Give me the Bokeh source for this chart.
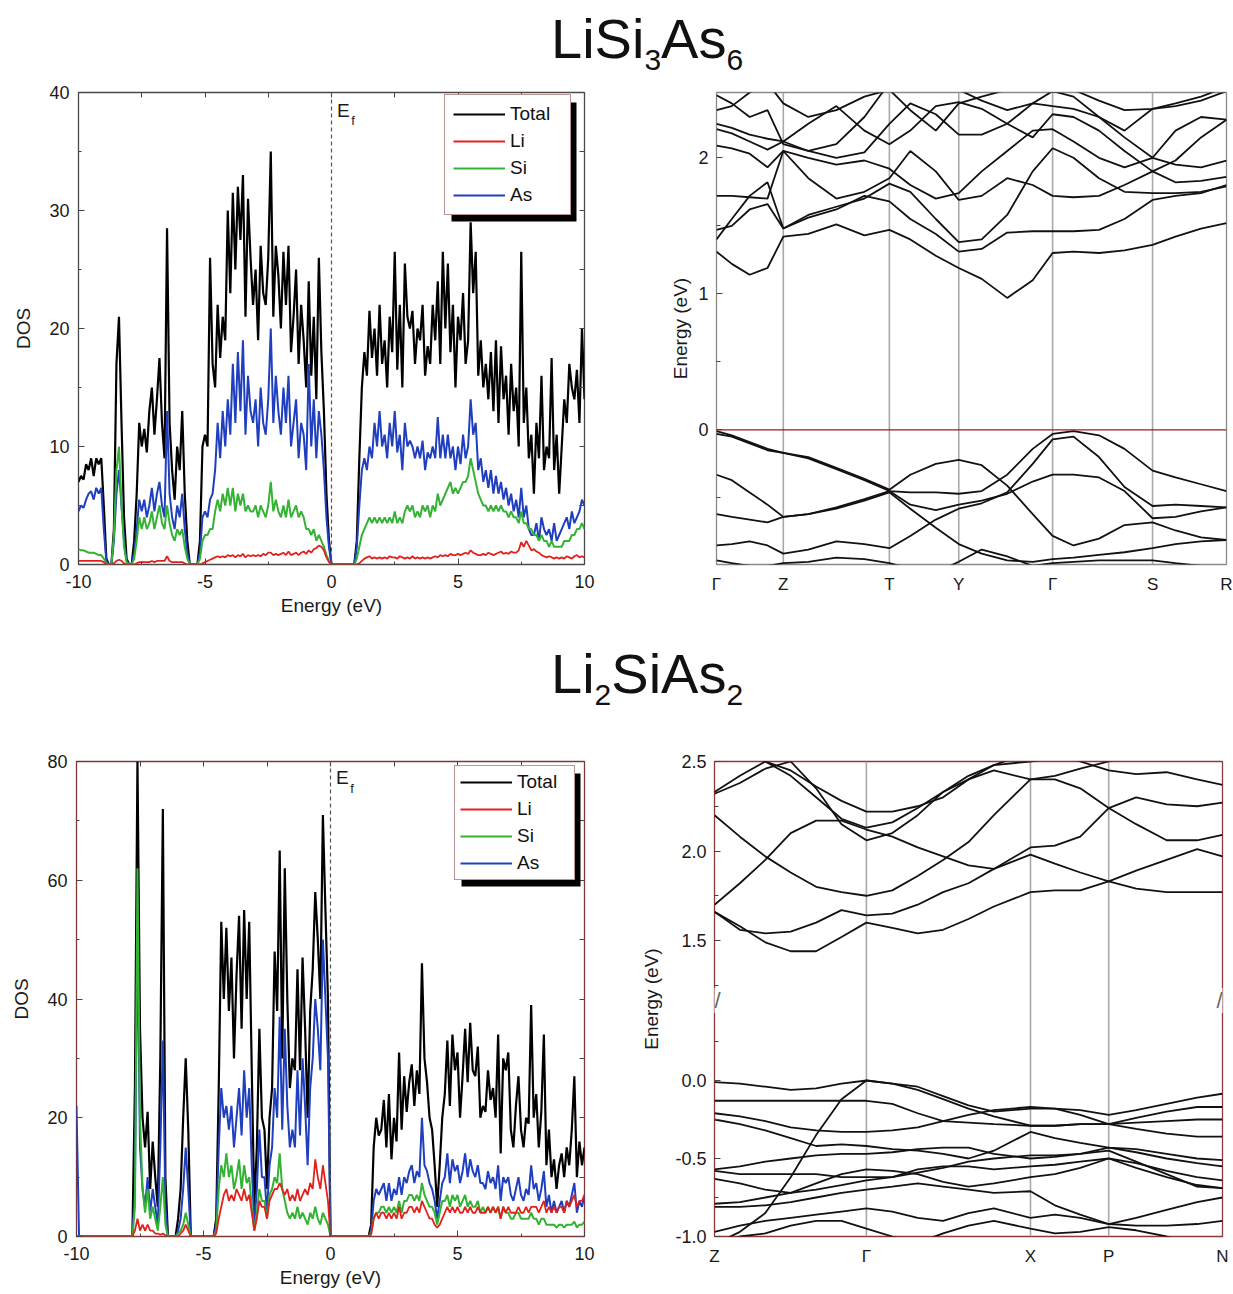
import numpy as np
from bokeh.plotting import figure
from bokeh.models import (Div, Span, Label, Legend, LegendItem, LinearAxis,
                          FixedTicker, BoxAnnotation, Range1d)
from bokeh.layouts import column, row
from bokeh.embed import file_html
from bokeh.resources import INLINE

FONT = "Liberation Sans"

# ---------------------------------------------------------------- DOS data
energy = np.round(np.linspace(-10.0, 10.0, 201), 1)

# LiSi3As6
dos1_total = [
    7.0, 7.5, 7.2, 8.5, 8.0, 9.0, 7.5, 9.0, 8.5, 9.0,
    5.0, 0.5, 0.0, 0.0, 3.0, 17.0, 21.0, 12.0, 4.0, 0.5,
    0.0, 0.0, 2.0, 6.0, 12.0, 10.0, 11.5, 9.5, 13.0, 15.0,
    11.0, 14.0, 17.5, 12.0, 9.0, 28.5, 12.0, 8.0, 5.5, 10.0,
    8.0, 13.0, 6.0, 2.0, 0.0, 0.0, 0.0, 0.0, 2.0, 10.0,
    11.0, 10.0, 26.0, 17.0, 15.0, 22.0, 17.5, 21.0, 19.0, 30.0,
    23.0, 31.5, 25.0, 32.0, 27.5, 33.0, 21.0, 31.0, 26.0, 22.0,
    25.0, 19.0, 27.0, 23.0, 22.0, 26.0, 35.0, 21.0, 27.0, 24.5,
    20.0, 26.5, 22.0, 27.0, 18.0, 21.0, 25.0, 17.0, 22.0, 19.0,
    15.0, 24.0, 16.0, 21.0, 14.0, 26.0, 18.0, 13.0, 6.0, 2.0,
    0.0, 0.0, 0.0, 0.0, 0.0, 0.0, 0.0, 0.0, 0.0, 0.0,
    2.0, 9.0, 15.0, 18.0, 16.0, 21.5, 17.5, 20.0, 16.0, 22.0,
    17.0, 19.0, 15.0, 21.0, 18.0, 26.5, 16.5, 22.0, 15.0, 25.5,
    21.0, 20.0, 21.5, 17.0, 20.0, 19.0, 22.0, 16.0, 18.5, 17.0,
    22.0, 19.0, 24.0, 17.0, 26.5, 20.0, 25.5, 18.0, 22.0, 15.0,
    21.0, 19.0, 23.0, 17.0, 19.0, 29.0, 23.0, 26.5, 16.0, 19.0,
    15.0, 17.0, 14.0, 18.0, 13.0, 19.0, 12.0, 18.5, 14.0, 16.0,
    11.0, 17.0, 13.0, 15.0, 10.0, 26.5, 12.0, 15.0, 9.0, 11.0,
    6.0, 12.0, 9.0, 16.0, 8.0, 10.0, 9.0, 17.5, 8.0, 11.0,
    6.0, 10.0, 14.0, 12.0, 17.0, 15.0, 14.0, 16.5, 12.0, 20.0,
    14.0]
dos1_as = [
    4.5, 5.0, 4.8, 5.5, 6.0, 6.2, 5.5, 6.5, 6.0, 6.5,
    3.0, 0.3, 0.0, 0.0, 2.0, 6.0, 8.0, 5.0, 2.0, 0.3,
    0.0, 0.0, 1.0, 3.0, 5.5, 4.5, 5.5, 4.0, 5.0, 6.5,
    4.5, 6.0, 7.0, 5.0, 4.0, 13.0, 6.0, 4.0, 3.0, 5.0,
    4.0, 6.0, 3.0, 1.0, 0.0, 0.0, 0.0, 0.0, 1.0, 4.0,
    4.5, 4.0, 5.5, 6.0, 8.0, 12.0, 9.0, 13.0, 10.0, 14.0,
    11.0, 17.0, 12.0, 18.0, 13.0, 19.0, 11.0, 16.0, 13.0, 12.0,
    14.0, 10.0, 15.0, 12.0, 11.0, 14.0, 20.0, 12.0, 16.0, 13.0,
    11.0, 15.0, 12.0, 16.0, 10.0, 12.0, 14.0, 9.0, 12.0, 11.0,
    8.0, 17.0, 10.0, 14.0, 9.0, 13.0, 11.0, 8.0, 4.0, 1.5,
    0.0, 0.0, 0.0, 0.0, 0.0, 0.0, 0.0, 0.0, 0.0, 0.0,
    1.5, 5.0, 8.0, 9.0, 8.0, 10.0, 9.0, 12.0, 10.0, 13.0,
    10.0, 11.0, 9.0, 12.0, 10.0, 13.0, 9.5, 11.0, 8.0, 12.0,
    10.0, 10.5, 10.0, 9.0, 10.0, 9.0, 10.5, 8.0, 9.5, 9.0,
    10.0, 9.0, 12.5, 9.0, 11.0, 9.0, 11.0, 9.0, 10.0, 8.0,
    10.0, 8.5, 11.0, 9.0, 10.0, 14.0, 11.0, 12.0, 8.0, 9.0,
    7.0, 8.0, 6.5, 8.0, 6.0, 7.5, 6.0, 7.0, 5.5, 6.5,
    5.0, 6.0, 4.5, 5.5, 4.0, 6.5, 4.0, 5.0, 3.0, 2.5,
    2.5, 3.5, 2.0, 4.0, 3.0, 2.5, 3.0, 2.0, 3.5, 2.0,
    2.5, 3.0, 3.5, 4.0, 3.0, 4.5, 3.5, 4.0, 4.5, 5.5,
    5.0]
dos1_si = [
    1.3, 1.2, 1.2, 1.1, 1.0, 1.0, 1.0, 0.9, 0.8, 0.8,
    0.5, 0.1, 0.0, 0.0, 2.5, 8.0, 10.0, 5.0, 1.5, 0.2,
    0.0, 0.0, 0.5, 2.0, 4.0, 3.0, 4.0, 3.0, 3.5, 4.5,
    3.0, 4.0, 5.0, 3.5, 3.0, 5.0, 3.5, 2.5, 2.0, 3.0,
    2.5, 3.0, 1.5, 0.5, 0.0, 0.0, 0.0, 0.0, 0.5, 2.0,
    2.5, 2.5, 3.0, 3.0, 4.5, 5.5, 4.5, 6.0, 5.0, 6.5,
    5.0, 6.5, 4.5, 6.0, 5.0, 6.0, 4.5, 5.0, 4.5, 4.5,
    5.0, 4.0, 5.0, 4.5, 4.0, 5.0, 7.0, 4.5, 5.5, 4.5,
    4.0, 5.0, 4.0, 5.5, 4.0, 4.5, 5.0, 4.0, 4.5, 4.0,
    3.0, 3.0, 2.5, 3.0, 2.0, 2.5, 2.0, 1.5, 0.8, 0.3,
    0.0, 0.0, 0.0, 0.0, 0.0, 0.0, 0.0, 0.0, 0.0, 0.0,
    0.5, 1.5, 2.5, 3.0, 3.5, 4.0, 3.5, 4.0, 3.5, 4.0,
    3.5, 4.0, 3.5, 4.0, 3.5, 4.5, 3.5, 4.0, 3.5, 4.5,
    5.0, 4.5, 5.0, 4.0, 4.5, 4.0, 5.0, 4.5, 5.0, 4.0,
    5.0, 4.5, 6.0, 5.0, 5.5, 6.0, 6.5, 7.0, 6.0, 6.5,
    6.0, 6.5, 7.0, 7.0, 7.5, 9.0, 8.0, 7.0, 6.0, 5.5,
    5.0, 5.0, 4.5, 5.0, 4.5, 5.0, 4.5, 5.0, 4.5, 4.5,
    4.0, 4.5, 4.0, 4.0, 3.5, 4.5, 3.5, 3.5, 3.0, 3.0,
    2.5, 2.5, 2.0, 2.5, 2.0, 2.0, 1.5, 2.0, 1.5, 1.5,
    1.5, 1.5, 2.0, 2.0, 2.0, 2.5, 2.5, 3.0, 3.0, 3.5,
    3.0]
dos1_li = [
    0.3, 0.3, 0.3, 0.3, 0.3, 0.3, 0.3, 0.3, 0.3, 0.3,
    0.2, 0.0, 0.0, 0.0, 0.1, 0.3, 0.4, 0.3, 0.1, 0.0,
    0.0, 0.0, 0.0, 0.1, 0.2, 0.2, 0.2, 0.2, 0.2, 0.3,
    0.2, 0.3, 0.3, 0.3, 0.3, 0.7, 0.3, 0.2, 0.2, 0.2,
    0.2, 0.2, 0.1, 0.0, 0.0, 0.0, 0.0, 0.0, 0.0, 0.1,
    0.2, 0.3, 0.4, 0.5, 0.6, 0.7, 0.6, 0.7, 0.6, 0.8,
    0.7, 0.8, 0.6, 0.8, 0.7, 0.9, 0.6, 0.8, 0.7, 0.8,
    0.7, 0.8, 0.7, 0.9, 0.8, 1.0, 1.0, 0.8, 0.9, 0.8,
    0.9, 1.0, 0.8, 1.1, 0.8, 0.9, 1.0, 0.8, 1.0, 1.1,
    0.9, 1.2, 1.0, 1.3, 1.4, 1.6, 1.5, 1.2, 0.6, 0.2,
    0.0, 0.0, 0.0, 0.0, 0.0, 0.0, 0.0, 0.0, 0.0, 0.0,
    0.0, 0.1, 0.3, 0.5, 0.6, 0.7, 0.5, 0.6, 0.5, 0.6,
    0.5, 0.6, 0.5, 0.7, 0.6, 0.6, 0.5, 0.7, 0.6, 0.5,
    0.6, 0.5, 0.7, 0.5, 0.6, 0.5, 0.6, 0.5, 0.6, 0.5,
    0.6, 0.7, 0.6, 0.8, 0.7, 0.8, 0.7, 0.9, 0.8, 0.8,
    0.9, 0.8, 0.9, 1.0, 0.9, 1.2, 1.0, 0.9, 0.8, 0.8,
    0.9, 0.8, 1.0, 0.9, 0.8, 0.9, 1.0, 1.1, 0.9, 1.0,
    0.9, 1.1, 1.0, 1.0, 1.2, 1.9, 1.5, 2.0, 1.6, 1.2,
    1.3, 1.1, 1.0, 0.8, 0.7, 0.6, 0.7, 0.6, 0.5, 0.6,
    0.5, 0.6, 0.5, 0.7, 0.6, 0.5, 0.7, 0.8, 0.6, 0.7,
    0.6]

# Li2SiAs2
dos2_total = [
    0, 0, 0, 0, 0, 0, 0, 0, 0, 0,
    0, 0, 0, 0, 0, 0, 0, 0, 0, 0,
    0, 0, 0, 25, 80, 35, 20, 15, 21, 8,
    16, 10, 5, 30, 72, 10, 0, 0, 0, 0,
    3, 8, 20, 30, 18, 0, 0, 0, 0, 0,
    0, 0, 0, 0, 0, 3, 25, 53, 40, 52,
    38, 47, 30, 44, 54, 35, 55, 40, 53, 28,
    5, 15, 35, 20, 18, 8, 20, 25, 48, 38,
    65, 30, 62, 40, 25, 30, 28, 45, 28, 47,
    35, 20, 38, 45, 58, 50, 40, 71, 55, 40,
    0, 0, 0, 0, 0, 0, 0, 0, 0, 0,
    0, 0, 0, 0, 0, 0, 2, 15, 20, 17,
    18, 23, 15, 24, 13, 20, 16, 31, 18, 27,
    21, 26, 29, 22, 28, 24, 46, 30, 26, 20,
    18, 12, 5, 12, 20, 24, 33, 22, 34, 28,
    31, 20, 27, 35, 26, 36, 28, 27, 32, 20,
    22, 21, 28, 23, 25, 20, 34, 14, 30, 28,
    31, 18, 15, 22, 27, 18, 15, 20, 19, 39,
    20, 24, 15, 21, 34, 12, 18, 10, 13, 8,
    12, 14, 10, 15, 12, 18, 27, 10, 16, 12,
    15]
dos2_as = [
    22, 0, 0, 0, 0, 0, 0, 0, 0, 0,
    0, 0, 0, 0, 0, 0, 0, 0, 0, 0,
    0, 0, 0, 8, 52, 15, 8, 5, 10, 4,
    8, 5, 2, 15, 33, 5, 0, 0, 0, 0,
    1, 3, 8, 15, 8, 0, 0, 0, 0, 0,
    0, 0, 0, 0, 0, 2, 15, 25, 20, 22,
    18, 22, 15, 20, 25, 17, 28, 20, 25, 12,
    2, 8, 18, 10, 10, 4, 12, 15, 25, 20,
    37, 18, 35, 22, 15, 18, 15, 28, 17, 30,
    22, 12, 25, 30, 40, 35, 28, 50, 40, 30,
    0, 0, 0, 0, 0, 0, 0, 0, 0, 0,
    0, 0, 0, 0, 0, 0, 1, 6, 8, 7,
    8, 9, 6, 9, 6, 8, 7, 10, 7, 10,
    9, 11, 12, 9, 11, 10, 20, 12, 11, 9,
    8, 6, 3, 6, 9, 10, 14, 9, 13, 11,
    12, 9, 11, 14, 10, 13, 11, 10, 12, 9,
    9, 8, 11, 9, 10, 8, 12, 6, 10, 9,
    10, 7, 6, 8, 10, 7, 6, 8, 7, 12,
    8, 9, 6, 8, 11, 5, 7, 4, 6, 4,
    5, 6, 4, 6, 5, 7, 9, 4, 6, 5,
    7]
dos2_si = [
    0, 0, 0, 0, 0, 0, 0, 0, 0, 0,
    0, 0, 0, 0, 0, 0, 0, 0, 0, 0,
    0, 0, 0, 5, 62, 20, 8, 4, 8, 3,
    5, 3, 1, 5, 10, 2, 0, 0, 0, 0,
    0.5, 1, 2, 4, 2, 0, 0, 0, 0, 0,
    0, 0, 0, 0, 0, 1, 8, 12, 10, 14,
    10, 12, 8, 10, 13, 8, 12, 9, 10, 5,
    1, 4, 8, 6, 6, 3, 7, 8, 10, 9,
    14, 8, 6, 4, 3, 4, 3, 5, 3, 4,
    3, 2, 4, 3, 5, 3, 2, 4, 3, 2,
    0, 0, 0, 0, 0, 0, 0, 0, 0, 0,
    0, 0, 0, 0, 0, 0, 0.5, 3, 4, 4,
    5, 5, 4, 5, 4, 5, 4, 6, 4, 6,
    6, 7, 7, 6, 7, 6, 9, 7, 6, 5,
    5, 4, 2, 4, 6, 6, 7, 5, 7, 6,
    7, 5, 6, 7, 5, 6, 5, 5, 6, 4,
    5, 4, 5, 4, 5, 4, 5, 3, 5, 4,
    4, 3, 3, 4, 4, 3, 3, 3, 3, 4,
    3, 3, 2, 3, 3, 2, 2, 2, 2, 1.5,
    2, 2, 1.5, 2, 2, 2, 2.5, 1.5, 2, 2,
    2.5]
dos2_li = [
    0, 0, 0, 0, 0, 0, 0, 0, 0, 0,
    0, 0, 0, 0, 0, 0, 0, 0, 0, 0,
    0, 0, 0, 1, 3, 1, 2, 1, 2, 1,
    1, 0.5, 0.5, 0.3, 0.5, 0.2, 0, 0, 0, 0,
    0, 0.5, 1, 2, 1, 0, 0, 0, 0, 0,
    0, 0, 0, 0, 0, 0.5, 3, 5, 7, 8,
    6, 7, 6, 8, 7, 6, 8, 6, 7, 4,
    1, 3, 6, 5, 5, 3, 6, 7, 8, 8,
    9, 8, 7, 8, 6, 7, 6, 8, 6, 7,
    8, 7, 9, 8, 13, 10, 8, 12, 9, 6,
    0, 0, 0, 0, 0, 0, 0, 0, 0, 0,
    0, 0, 0, 0, 0, 0, 0.3, 3, 4, 3,
    4, 4, 3, 4, 3, 4, 3, 5, 3, 4,
    4, 5, 5, 4, 5, 4, 6, 5, 4, 3,
    3, 2, 1.5, 2, 3, 4, 5, 4, 5, 4,
    5, 4, 4, 5, 4, 5, 4, 4, 5, 4,
    4, 4, 5, 4, 5, 4, 5, 3, 5, 4,
    5, 4, 4, 4, 5, 4, 4, 5, 4, 5,
    5, 5, 4, 5, 6, 4, 5, 4, 5, 4,
    5, 5, 4, 6, 5, 6, 7, 5, 6, 6,
    7]

# ---------------------------------------------------------------- band data
# LiSi3As6 : path G-Z-T-Y-G-S-R
kpath1_pos = [0.0, 0.131, 0.339, 0.475, 0.659, 0.855, 1.0]
kpath1_lab = ["Γ", "Z", "T", "Y", "Γ", "S", "R"]
k1 = [0, 0.03, 0.065, 0.1, 0.131, 0.18, 0.235, 0.29, 0.339, 0.38, 0.43, 0.475,
      0.52, 0.57, 0.62, 0.659, 0.70, 0.75, 0.80, 0.855, 0.90, 0.95, 1.0]
bands1 = [
    [1.31, 1.22, 1.14, 1.19, 1.42, 1.44, 1.51, 1.43, 1.47, 1.40, 1.28, 1.19, 1.11, 0.97, 1.10, 1.30, 1.31, 1.30, 1.32, 1.36, 1.42, 1.48, 1.52],
    [1.40, 1.55, 1.72, 1.82, 1.48, 1.56, 1.62, 1.72, 1.68, 1.55, 1.44, 1.31, 1.33, 1.45, 1.46, 1.46, 1.46, 1.47, 1.55, 1.69, 1.72, 1.74, 1.80],
    [1.47, 1.50, 1.62, 1.66, 1.48, 1.58, 1.64, 1.70, 1.81, 1.75, 1.55, 1.38, 1.40, 1.58, 1.90, 2.07, 2.00, 1.85, 1.75, 1.74, 1.74, 1.75, 1.79],
    [1.72, 1.72, 1.71, 1.70, 2.05, 1.85, 1.70, 1.75, 1.85, 2.05, 1.90, 1.69, 1.72, 1.85, 1.80, 1.72, 1.71, 1.72, 1.80, 1.90, 1.82, 1.83, 1.86],
    [2.09, 2.07, 2.03, 1.93, 2.05, 2.00, 1.95, 1.98, 1.92, 1.80, 1.70, 1.74, 1.90, 2.05, 2.20, 2.21, 2.12, 2.00, 1.93, 2.00, 1.95, 1.93, 1.98],
    [2.21, 2.18, 2.12, 2.06, 2.12, 2.25, 2.38, 2.20, 2.10, 2.20, 2.38, 2.41, 2.36, 2.25, 2.15, 2.32, 2.30, 2.20, 2.05, 1.90, 1.98, 2.15, 2.28],
    [2.25, 2.22, 2.17, 2.14, 2.12, 2.05, 2.00, 2.04, 2.25, 2.40, 2.32, 2.17, 2.17, 2.25, 2.40, 2.49, 2.45, 2.30, 2.15, 2.00, 2.20, 2.30, 2.28],
    [2.35, 2.38, 2.48, 2.55, 2.40, 2.30, 2.35, 2.45, 2.50, 2.35, 2.20, 2.40, 2.45, 2.50, 2.55, 2.55, 2.50, 2.42, 2.35, 2.36, 2.38, 2.42, 2.49],
    [2.46, 2.40, 2.30, 2.35, 2.10, 2.05, 2.10, 2.30, 2.55, 2.60, 2.55, 2.50, 2.42, 2.35, 2.40, 2.38, 2.36, 2.30, 2.20, 2.36, 2.40, 2.45, 2.52],
    [-0.01, -0.04, -0.09, -0.14, -0.17, -0.20, -0.28, -0.36, -0.44, -0.33, -0.25, -0.22, -0.26, -0.41, -0.62, -0.78, -0.85, -0.80, -0.70, -0.68, -0.74, -0.79, -0.81],
    [-0.03, -0.05, -0.10, -0.15, -0.17, -0.21, -0.29, -0.37, -0.45, -0.46, -0.46, -0.47, -0.45, -0.33, -0.14, -0.03, -0.01, -0.04, -0.14, -0.30, -0.35, -0.40, -0.45],
    [-0.33, -0.37, -0.46, -0.55, -0.64, -0.62, -0.57, -0.51, -0.45, -0.55, -0.59, -0.55, -0.52, -0.47, -0.38, -0.33, -0.33, -0.35, -0.45, -0.65, -0.64, -0.60, -0.57],
    [-0.62, -0.64, -0.66, -0.68, -0.64, -0.62, -0.58, -0.52, -0.46, -0.58, -0.72, -0.84, -0.91, -0.96, -0.97, -0.95, -0.94, -0.92, -0.90, -0.87, -0.84, -0.82, -0.81],
    [-0.85, -0.84, -0.82, -0.85, -0.91, -0.88, -0.82, -0.84, -0.87, -0.78, -0.66, -0.58, -0.54, -0.46, -0.25, -0.07, -0.05, -0.20, -0.42, -0.56, -0.55, -0.56, -0.57],
    [-0.96, -0.98, -1.00, -1.00, -0.98, -0.97, -0.94, -0.95, -0.98, -1.02, -1.05, -0.97, -0.88, -0.93, -1.00, -0.98, -0.97, -0.96, -0.96, -0.96, -0.98, -1.00, -1.02],
]
energy_ticks1 = [-1, 0, 1, 2]
energy_minor1 = [-0.5, 0.5, 1.5]

# Li2SiAs2 : path Z-G-X-P-N (broken energy axis)
kpath2_pos = [0.0, 0.299, 0.622, 0.776, 1.0]
kpath2_lab = ["Z", "Γ", "X", "P", "N"]
k2 = [0, 0.05, 0.1, 0.15, 0.2, 0.25, 0.299, 0.35, 0.4, 0.45, 0.5, 0.55, 0.622,
      0.67, 0.72, 0.776, 0.83, 0.89, 0.95, 1.0]
bands2 = [
    [1.66, 1.58, 1.49, 1.44, 1.44, 1.52, 1.60, 1.57, 1.54, 1.56, 1.62, 1.69, 1.77, 1.78, 1.78, 1.83, 1.79, 1.77, 1.77, 1.77],
    [1.66, 1.56, 1.54, 1.55, 1.60, 1.67, 1.64, 1.65, 1.70, 1.77, 1.82, 1.90, 2.02, 2.03, 2.08, 2.24, 2.30, 2.26, 2.25, 2.27],
    [1.70, 1.82, 1.95, 2.10, 2.17, 2.17, 2.12, 2.08, 2.02, 1.97, 1.92, 1.90, 1.98, 1.93, 1.88, 1.83, 1.89, 1.95, 2.01, 1.97],
    [2.20, 2.08, 1.97, 1.88, 1.80, 1.77, 1.75, 1.78, 1.86, 1.95, 2.05, 2.20, 2.40, 2.40, 2.35, 2.24, 2.15, 2.06, 2.06, 2.09],
    [2.33, 2.42, 2.50, 2.45, 2.36, 2.28, 2.22, 2.22, 2.25, 2.30, 2.40, 2.48, 2.55, 2.55, 2.50, 2.45, 2.43, 2.44, 2.40, 2.37],
    [2.60, 2.56, 2.50, 2.42, 2.30, 2.18, 2.13, 2.16, 2.24, 2.33, 2.40, 2.45, 2.40, 2.42, 2.46, 2.50, 2.55, 2.55, 2.55, 2.55],
    [2.32, 2.38, 2.46, 2.50, 2.35, 2.15, 2.06, 2.10, 2.20, 2.33, 2.42, 2.48, 2.50, 2.52, 2.55, 2.60, 2.60, 2.60, 2.60, 2.60],
    [-0.01, -0.02, -0.04, -0.06, -0.05, -0.02, 0.00, -0.02, -0.04, -0.10, -0.16, -0.20, -0.18, -0.18, -0.19, -0.22, -0.19, -0.15, -0.11, -0.085],
    [-1.05, -0.97, -0.85, -0.62, -0.35, -0.12, 0.00, -0.02, -0.06, -0.12, -0.18, -0.23, -0.29, -0.29, -0.28, -0.28, -0.24, -0.20, -0.17, -0.17],
    [-0.13, -0.13, -0.13, -0.13, -0.13, -0.13, -0.13, -0.15, -0.21, -0.26, -0.27, -0.28, -0.29, -0.29, -0.28, -0.28, -0.27, -0.26, -0.25, -0.25],
    [-0.21, -0.23, -0.26, -0.30, -0.32, -0.33, -0.33, -0.32, -0.30, -0.26, -0.22, -0.19, -0.17, -0.18, -0.22, -0.28, -0.31, -0.34, -0.36, -0.36],
    [-0.25, -0.28, -0.32, -0.37, -0.42, -0.41, -0.42, -0.44, -0.45, -0.47, -0.50, -0.45, -0.33, -0.37, -0.40, -0.43, -0.44, -0.47, -0.50, -0.51],
    [-0.57, -0.55, -0.52, -0.50, -0.48, -0.47, -0.47, -0.46, -0.44, -0.43, -0.43, -0.47, -0.50, -0.49, -0.47, -0.43, -0.46, -0.50, -0.53, -0.55],
    [-0.63, -0.66, -0.70, -0.72, -0.66, -0.60, -0.57, -0.58, -0.60, -0.65, -0.68, -0.66, -0.62, -0.60, -0.56, -0.50, -0.53, -0.58, -0.62, -0.64],
    [-0.58, -0.60, -0.60, -0.60, -0.60, -0.62, -0.62, -0.62, -0.57, -0.55, -0.55, -0.57, -0.55, -0.54, -0.52, -0.50, -0.56, -0.62, -0.67, -0.69],
    [-0.79, -0.78, -0.75, -0.72, -0.70, -0.67, -0.64, -0.62, -0.59, -0.56, -0.52, -0.50, -0.48, -0.48, -0.47, -0.45, -0.52, -0.60, -0.68, -0.69],
    [-0.81, -0.81, -0.80, -0.78, -0.75, -0.72, -0.70, -0.68, -0.66, -0.68, -0.70, -0.72, -0.71, -0.80, -0.86, -0.92, -0.88, -0.83, -0.78, -0.75],
    [-0.97, -0.93, -0.90, -0.88, -0.86, -0.84, -0.82, -0.84, -0.88, -0.90, -0.85, -0.82, -0.88, -0.86, -0.88, -0.92, -0.93, -0.93, -0.92, -0.90],
    [-1.05, -1.00, -0.98, -0.93, -0.90, -0.90, -0.95, -1.00, -1.04, -0.98, -0.93, -0.90, -0.95, -0.98, -0.97, -0.94, -0.96, -1.00, -1.05, -1.08],
]
energy_ticks2 = [2.5, 2.0, 1.5, 0.0, -0.5, -1.0]
energy_minor2 = [2.25, 1.75, 1.25, 0.25, -0.25, -0.75]

COL = {"Total": "#000000", "Li": "#e3211c", "Si": "#33b233", "As": "#1f3fbf"}


# broken-axis scale for the Li2SiAs2 band panel (lower part 156 px/eV, upper 179 px/eV)
def brk(e):
    e = np.asarray(e, dtype=float)
    return np.where(e < 0.8, 156.0 * e, 80.0 + 179.0 * (e - 1.165))


def fmt(v):
    return "%g" % v


def style_axis(ax, size="18px"):
    ax.major_label_text_font = FONT
    ax.major_label_text_font_size = size
    ax.major_label_text_color = "#1a1a1a"
    ax.axis_label_text_font = FONT
    ax.axis_label_text_font_style = "normal"
    ax.axis_label_text_font_size = "19px"
    ax.axis_label_text_color = "#1a1a1a"
    ax.axis_line_color = None
    ax.major_tick_line_color = "#444444"
    ax.minor_tick_line_color = "#444444"


def tick_only_axis(p, side, positions, length=5):
    # an axis that only carries inward tick marks (no labels)
    ax = LinearAxis(ticker=FixedTicker(ticks=[], minor_ticks=positions),
                    major_tick_in=0, major_tick_out=0,
                    minor_tick_in=length, minor_tick_out=0, axis_line_color=None,
                    minor_tick_line_color="#444444", major_label_standoff=0)
    p.add_layout(ax, side)


def dos_fig(total, li, si, as_, ymax, ystep, w, h, bl, br, bt, bb, outline,
            leg_loc, leg_pad, leg_sp, ef_y):
    p = figure(width=w, height=h, x_range=Range1d(-10, 10), y_range=Range1d(0, ymax),
               output_backend="svg", toolbar_location=None,
               min_border_left=bl, min_border_right=br, min_border_top=bt, min_border_bottom=bb)
    p.margin = 0
    p.grid.visible = False
    p.outline_line_color = outline
    p.outline_line_width = 1.3
    xmaj = [-10, -5, 0, 5, 10]
    xmin = [-7.5, -2.5, 2.5, 7.5]
    ymaj = list(range(0, ymax + 1, ystep))
    ymin = [v + ystep / 2 for v in range(0, ymax, ystep)]
    p.xaxis.ticker = FixedTicker(ticks=xmaj, minor_ticks=xmin)
    p.yaxis.ticker = FixedTicker(ticks=ymaj, minor_ticks=ymin)
    p.xaxis.major_label_overrides = {v: fmt(v) for v in xmaj}
    for ax in (p.xaxis[0], p.yaxis[0]):
        style_axis(ax)
        ax.major_tick_in = 6
        ax.major_tick_out = 0
        ax.minor_tick_in = 3
        ax.minor_tick_out = 0
    p.xaxis.major_label_standoff = 10
    p.yaxis.major_label_standoff = 9
    p.xaxis.axis_label = "Energy (eV)"
    p.xaxis.axis_label_standoff = 4
    p.yaxis.axis_label = "DOS"
    p.yaxis.axis_label_standoff = 12
    tick_only_axis(p, "right", ymaj[1:-1] + ymin)
    tick_only_axis(p, "above", xmaj[1:-1] + xmin)

    rt = p.line(energy, total, line_color=COL["Total"], line_width=2.2)
    ra = p.line(energy, as_, line_color=COL["As"], line_width=2.0)
    rs = p.line(energy, si, line_color=COL["Si"], line_width=2.0)
    rl = p.line(energy, li, line_color=COL["Li"], line_width=1.8)

    p.add_layout(Span(location=0, dimension="height", line_color="#555555",
                      line_dash="4 3", line_width=1.2))
    p.add_layout(Label(x=0.22, y=ef_y, text="E", text_baseline="top",
                       text_font=FONT, text_font_size="19px", text_color="#1a1a1a"))
    p.add_layout(Label(x=0.78, y=ef_y - ymax * 0.028, text="f", text_baseline="top",
                       text_font=FONT, text_font_size="13px", text_color="#1a1a1a"))

    # legend with drop shadow
    fw, fh = w - bl - br, h - bt - bb
    lw, lh = 2 * leg_pad + 109, 4 * 22 + 3 * leg_sp + 2 * leg_pad
    lx, ly = leg_loc
    sx0, sx1 = lx + 7, lx + lw + 7
    sy0, sy1 = ly - 6, ly + lh - 6
    p.add_layout(BoxAnnotation(left=-10 + sx0 / fw * 20, right=-10 + sx1 / fw * 20,
                               bottom=sy0 / fh * ymax, top=sy1 / fh * ymax,
                               fill_color="black", fill_alpha=1.0, line_color=None))
    leg = Legend(items=[LegendItem(label="Total", renderers=[rt]),
                        LegendItem(label="Li", renderers=[rl]),
                        LegendItem(label="Si", renderers=[rs]),
                        LegendItem(label="As", renderers=[ra])],
                 location=leg_loc, margin=0, padding=leg_pad, spacing=leg_sp,
                 label_height=22, glyph_height=22, glyph_width=52, label_standoff=5,
                 label_width=52,
                 label_text_font=FONT, label_text_font_size="19px", label_text_color="#111111",
                 border_line_color="#7a2a2a", border_line_width=1.2,
                 background_fill_color="white", background_fill_alpha=1.0)
    p.add_layout(leg)
    return p


def band_fig(kk, bands, kpos, klab, yr, w, h, bl, br, bt, bb, outline, yticks,
             yminor, overrides, label_standoff):
    p = figure(width=w, height=h, x_range=Range1d(0, 1), y_range=Range1d(*yr),
               output_backend="svg", toolbar_location=None,
               min_border_left=bl, min_border_right=br, min_border_top=bt, min_border_bottom=bb)
    p.margin = 0
    p.grid.visible = False
    p.outline_line_color = outline
    p.outline_line_width = 1.3
    p.xaxis.ticker = FixedTicker(ticks=kpos)
    p.xaxis.major_label_overrides = {kv: lab for kv, lab in zip(kpos, klab)}
    style_axis(p.xaxis[0], "17px")
    p.xaxis.major_tick_in = 0
    p.xaxis.major_tick_out = 0
    p.xaxis.minor_tick_line_color = None
    p.xaxis.major_label_standoff = 10
    style_axis(p.yaxis[0])
    p.yaxis.ticker = FixedTicker(ticks=yticks, minor_ticks=yminor)
    p.yaxis.major_label_overrides = overrides
    p.yaxis.major_tick_in = 6
    p.yaxis.major_tick_out = 0
    p.yaxis.minor_tick_in = 4
    p.yaxis.minor_tick_out = 0
    p.yaxis.major_label_standoff = 8
    p.yaxis.axis_label = "Energy (eV)"
    p.yaxis.axis_label_standoff = label_standoff
    for kv in kpos[1:-1]:
        p.add_layout(Span(location=kv, dimension="height", line_color="#a8a8a8",
                          line_width=1.6, level="underlay"))
    for b in bands:
        p.line(kk, b, line_color="#151010", line_width=1.8)
    return p


def title_div(html_text, pad_top, height):
    txt = ('<div style="font-family:\'Liberation Sans\',Arial,sans-serif;font-size:56px;'
           'line-height:56px;color:#111;padding-left:551px;padding-top:%dpx;white-space:nowrap;">'
           '%s</div>' % (pad_top, html_text))
    return Div(text=txt, width=1233, height=height, margin=0)


SUB = '<span style="font-size:30px;position:relative;top:12px;">%s</span>'

t1 = title_div("LiSi" + SUB % "3" + "As" + SUB % "6", 11, 80)

p1 = dos_fig(dos1_total, dos1_li, dos1_si, dos1_as, 40, 10, 620, 545, 78, 36, 12, 61,
             "#4a4a4a", (366, 349), 8, 5, 39.4)

p2 = band_fig(k1, bands1, kpath1_pos, kpath1_lab, (-0.99, 2.48), 613, 545, 96, 7, 12, 61,
              "#8a8a8a", energy_ticks1, energy_minor1,
              {v: fmt(v) for v in energy_ticks1}, 4)
p2.add_layout(Span(location=0, dimension="width", line_color="#9b1c1c", line_width=1.2))

t2 = title_div("Li" + SUB % "2" + "SiAs" + SUB % "2", 21, 120)

p3 = dos_fig(dos2_total, dos2_li, dos2_si, dos2_as, 80, 20, 620, 549, 76, 36, 16, 58,
             "#7a3a3a", (378, 356), 5, 5, 79.0)

bands2_disp = [brk(b) for b in bands2]
tick_disp = [float(v) for v in brk(energy_ticks2)]
minor_disp = [float(v) for v in brk(energy_minor2)]
ov = {td: "%.1f" % tv for td, tv in zip(tick_disp, energy_ticks2)}
p4 = band_fig(k2, bands2_disp, kpath2_pos, kpath2_lab,
              (float(brk(-1.0)), float(brk(2.5))), 613, 549, 94, 11, 16, 58,
              "#8a3a3a", tick_disp, minor_disp, ov, 10)
brk_y = float(brk(0.513))
for xb in (0.0, 1.0):
    p4.add_layout(Label(x=xb, y=brk_y, text="//", text_align="center", text_baseline="middle",
                        text_font=FONT, text_font_size="22px", text_color="#666666",
                        background_fill_color="white", background_fill_alpha=1.0))

layout = column(t1, row(p1, p2, spacing=0), t2, row(p3, p4, spacing=0), spacing=0)

open("out.html", "w").write(file_html(layout, INLINE))
